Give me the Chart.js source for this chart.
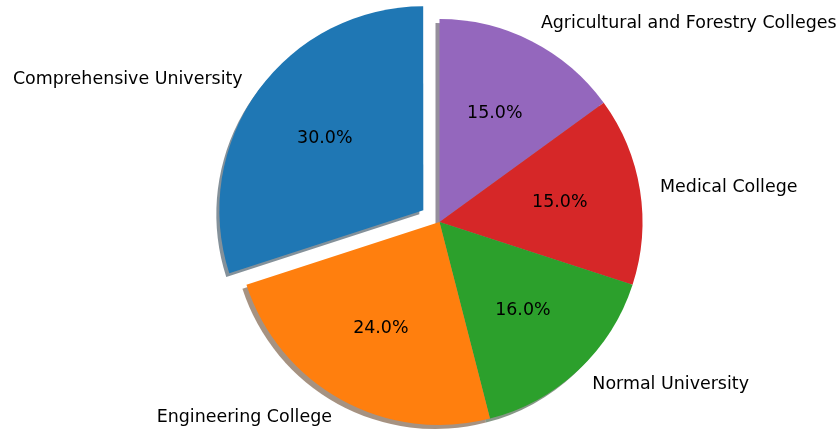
<!DOCTYPE html>
<html>
<head>
<meta charset="utf-8">
<script src="https://cdn.jsdelivr.net/npm/chart.js@4"></script>
<style>
  html, body { margin: 0; padding: 0; background: #fff; overflow: hidden; }
  #wrap { width: 839px; height: 430px; position: relative; }
</style>
</head>
<body>
<div id="wrap"><canvas id="chart"></canvas></div>
<script>
// Data (matplotlib goes counter-clockwise, so the order is reversed here)
const categories = ["Agricultural and Forestry Colleges", "Medical College", "Normal University", "Engineering College", "Comprehensive University"];
const shares = [15, 15, 16, 24, 30];
const colors = ["#9467bd", "#d62728", "#2ca02c", "#ff7f0e", "#1f77b4"];
const explode = [0, 0, 0, 0, 80]; // chart.js moves a slice by offset / 4

const total = shares.reduce((a, b) => a + b, 0);

function shadowColor(hex) {
    const n = parseInt(hex.slice(1), 16);
    const r = Math.round(((n >> 16) & 255) * 0.3);
    const g = Math.round(((n >> 8) & 255) * 0.3);
    const b = Math.round((n & 255) * 0.3);
    return "rgba(" + r + "," + g + "," + b + ",0.5)";
}

// shift of a slice center due to its offset
function shiftOf(arc, i) {
    const mid = (arc.startAngle + arc.endAngle) / 2;
    const d = explode[i] / 4;
    return { mid: mid, dx: Math.cos(mid) * d, dy: Math.sin(mid) * d };
}

// Shadow under the pie
const pieShadow = {
    id: "pieShadow",
    beforeDatasetsDraw(chart) {
        const ctx = chart.ctx;
        const arcs = chart.getDatasetMeta(0).data;
        ctx.save();
        arcs.forEach((arc, i) => {
            const s = shiftOf(arc, i);
            const x = arc.x + s.dx - 4;
            const y = arc.y + s.dy + 4;
            ctx.beginPath();
            ctx.moveTo(x, y);
            ctx.arc(x, y, arc.outerRadius, arc.startAngle, arc.endAngle);
            ctx.closePath();
            ctx.fillStyle = shadowColor(colors[i]);
            ctx.fill();
        });
        ctx.restore();
    }
};

// Category labels outside and percentages inside
const pieLabels = {
    id: "pieLabels",
    afterDatasetsDraw(chart) {
        const ctx = chart.ctx;
        const arcs = chart.getDatasetMeta(0).data;
        ctx.save();
        ctx.font = "17.45px 'DejaVu Sans'";
        ctx.fillStyle = "#000";
        ctx.textBaseline = "middle";
        arcs.forEach((arc, i) => {
            const s = shiftOf(arc, i);
            const cx = arc.x + s.dx;
            const cy = arc.y + s.dy;
            const r = arc.outerRadius;
            const lx = cx + Math.cos(s.mid) * r * 1.1;
            const ly = cy + Math.sin(s.mid) * r * 1.1;
            ctx.textAlign = lx > arc.x ? "left" : "right";
            ctx.fillText(categories[i], lx, ly);
            const px = cx + Math.cos(s.mid) * r * 0.6;
            const py = cy + Math.sin(s.mid) * r * 0.6;
            ctx.textAlign = "center";
            ctx.fillText((shares[i] / total * 100).toFixed(1) + "%", px, py);
        });
        ctx.restore();
    }
};

const chart = document.querySelector("#chart").getContext("2d");

new Chart(chart, {
    type: "pie",
    data: {
        labels: categories,
        datasets: [
            {
                data: shares,
                backgroundColor: colors,
                borderWidth: 0,
                offset: explode,
                radius: 203,
                clip: false,
            }
        ]
    },
    options: {
        responsive: true,
        maintainAspectRatio: false,
        animation: false,
        layout: { padding: { left: 40, top: 14, right: 0, bottom: 0 } },
        plugins: {
            legend: { display: false },
            tooltip: { enabled: false },
        }
    },
    plugins: [pieShadow, pieLabels]
});
</script>
</body>
</html>
